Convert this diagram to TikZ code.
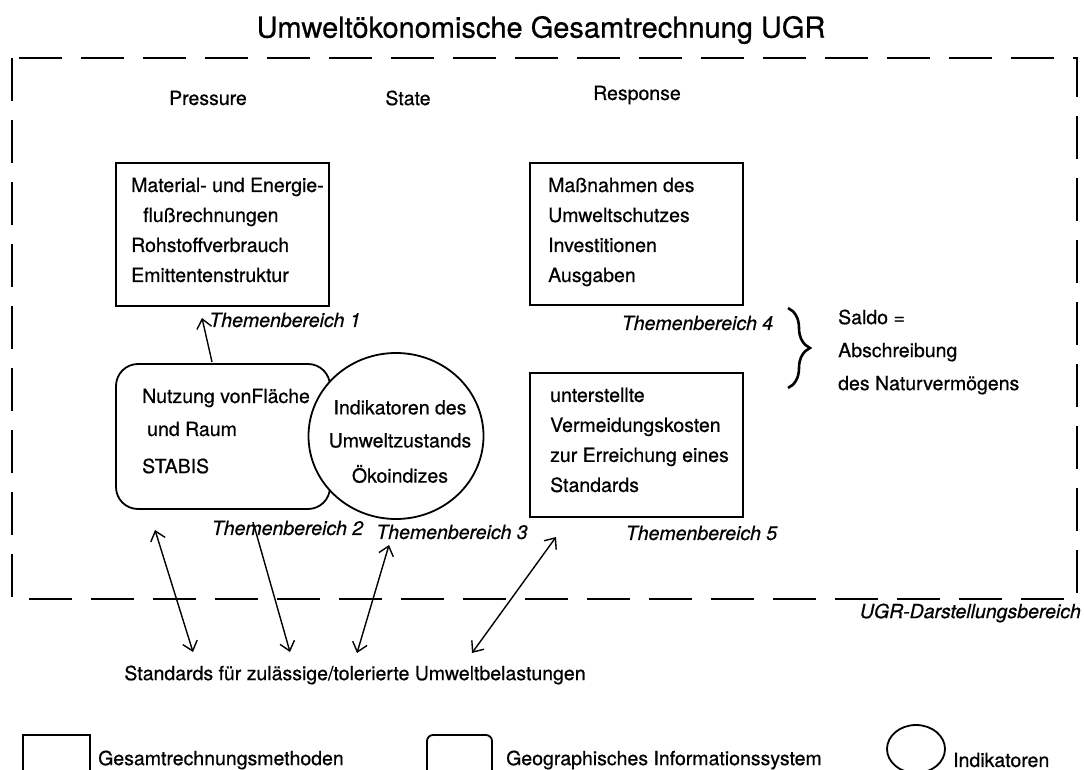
\documentclass[tikz,border=0pt]{standalone}
\usepackage{fontspec}
\setmainfont{TeX Gyre Heros}[FakeBold=0.6]
\usetikzlibrary{arrows.meta,shapes.geometric,decorations.pathreplacing}

\tikzset{
  body/.style={font=\fontsize{19.5}{30}\selectfont, inner sep=0pt, align=left},
  topic/.style={font=\fontsize{19.5}{24}\selectfont\itshape, inner sep=0pt},
  frameline/.style={draw, line width=1.8pt},
  methodbox/.style={frameline, rectangle, inner sep=0pt},
  gisbox/.style={frameline, rectangle, rounded corners=22pt, inner sep=0pt},
  indicator/.style={frameline, ellipse, fill=white, inner sep=0pt},
  link/.style={line width=1.4pt, -{Straight Barb[length=9pt,width=15pt,line width=1.4pt]}},
  duallink/.style={line width=1.4pt, {Straight Barb[length=9pt,width=15pt,line width=1.4pt]}-{Straight Barb[length=9pt,width=15pt,line width=1.4pt]}},
}

\begin{document}
\begin{tikzpicture}[x=1pt,y=-1pt]
\useasboundingbox (0,0) rectangle (1084,770);
\clip (0,0) rectangle (1084,770);

% title and accounting area
\node[font=\fontsize{29}{34}\selectfont, inner sep=0pt] (title) at (541,30) {Umweltökonomische Gesamtrechnung UGR};
\draw[line width=1.6pt, dash pattern=on 43pt off 19pt] (12,58) rectangle (1077,599);
\node[topic, anchor=east] (area) at (1081,613) {UGR-Darstellungsbereich};

% column headings
\node[body] (hp) at (208,98) {Pressure};
\node[body] (hs) at (408,98) {State};
\node[body] (hr) at (637,95) {Response};

% topic 1
\node[methodbox, minimum width=213pt, minimum height=143pt] (b1) at (222.5,234.5) {};
\node[body, anchor=west] (t1) at (131,230) {Material- und Energie-\\\hspace*{12pt}flußrechnungen\\Rohstoffverbrauch\\Emittentenstruktur};
\node[topic] (l1) at (285,320) {Themenbereich 1};

% topic 2
\node[gisbox, minimum width=214pt, minimum height=145pt] (b2) at (223,436.5) {};
\node[body, anchor=west] (t2) at (142,398) {Nutzung vonFläche};
\node[body, anchor=west] (t2b) at (147,429) {und Raum};
\node[body, anchor=west] (t2c) at (142,466) {STABIS};
\node[topic] (l2) at (287.5,528) {Themenbereich 2};

% topic 3
\node[indicator, minimum width=175pt, minimum height=166pt] (c3) at (396,436) {};
\node[body, align=center, font=\fontsize{19.5}{33}\selectfont] (t3) at (400,424) {Indikatoren des\\Umweltzustands};
\node[body] (t3b) at (400,474) {Ökoindizes};
\node[topic] (l3) at (452,532) {Themenbereich 3};

% topic 4
\node[methodbox, minimum width=213pt, minimum height=142pt] (b4) at (636.5,234) {};
\node[body, anchor=west] (t4) at (548,232) {Maßnahmen des\\Umweltschutzes\\Investitionen\\Ausgaben};
\node[topic] (l4) at (697.5,323) {Themenbereich 4};

% topic 5
\node[methodbox, minimum width=213pt, minimum height=144pt] (b5) at (636.5,445) {};
\node[body, anchor=west] (t5) at (550,440) {unterstellte\\Vermeidungskosten\\zur Erreichung eines\\Standards};
\node[topic] (l5) at (701.5,533) {Themenbereich 5};

% balance of topics 4 and 5
\coordinate (brtop) at (788,308);
\coordinate (brbot) at (788,388);
\draw[line width=2.6pt, decorate, decoration={brace, amplitude=22pt}] (brtop) -- (brbot);
\node[body, anchor=west, font=\fontsize{19.5}{33}\selectfont] (saldo) at (838,352) {Saldo =\\Abschreibung\\des Naturvermögens};

% standards
\node[body] (std) at (355,675) {Standards für zulässige/tolerierte Umweltbelastungen};

% connectors
\coordinate (p1a) at (212,362);
\coordinate (p1b) at (202,318);
\draw[link] (p1a) -- (p1b);

\coordinate (s1a) at (155,530);
\coordinate (s1b) at (193,652);
\draw[duallink] (s1a) -- (s1b);

\coordinate (s2a) at (253,522);
\coordinate (s2b) at (290,652);
\draw[link] (s2a) -- (s2b);

\coordinate (s3a) at (389,545);
\coordinate (s3b) at (357,653);
\draw[duallink] (s3a) -- (s3b);

\coordinate (s4a) at (556,537);
\coordinate (s4b) at (472,653);
\draw[duallink] (s4a) -- (s4b);

% key
\node[methodbox, minimum width=67pt, minimum height=42pt] (k1) at (56.5,756) {};
\node[body, anchor=west] (k1t) at (98,760) {Gesamtrechnungsmethoden};
\node[frameline, rectangle, rounded corners=6pt, minimum width=65pt, minimum height=42pt, inner sep=0pt] (k2) at (459.5,756) {};
\node[body, anchor=west] (k2t) at (506,760) {Geographisches Informationssystem};
\node[indicator, minimum width=58pt, minimum height=48pt] (k3) at (916,749) {};
\node[body, anchor=west] (k3t) at (953,760) {Indikatoren};
\end{tikzpicture}
\end{document}
